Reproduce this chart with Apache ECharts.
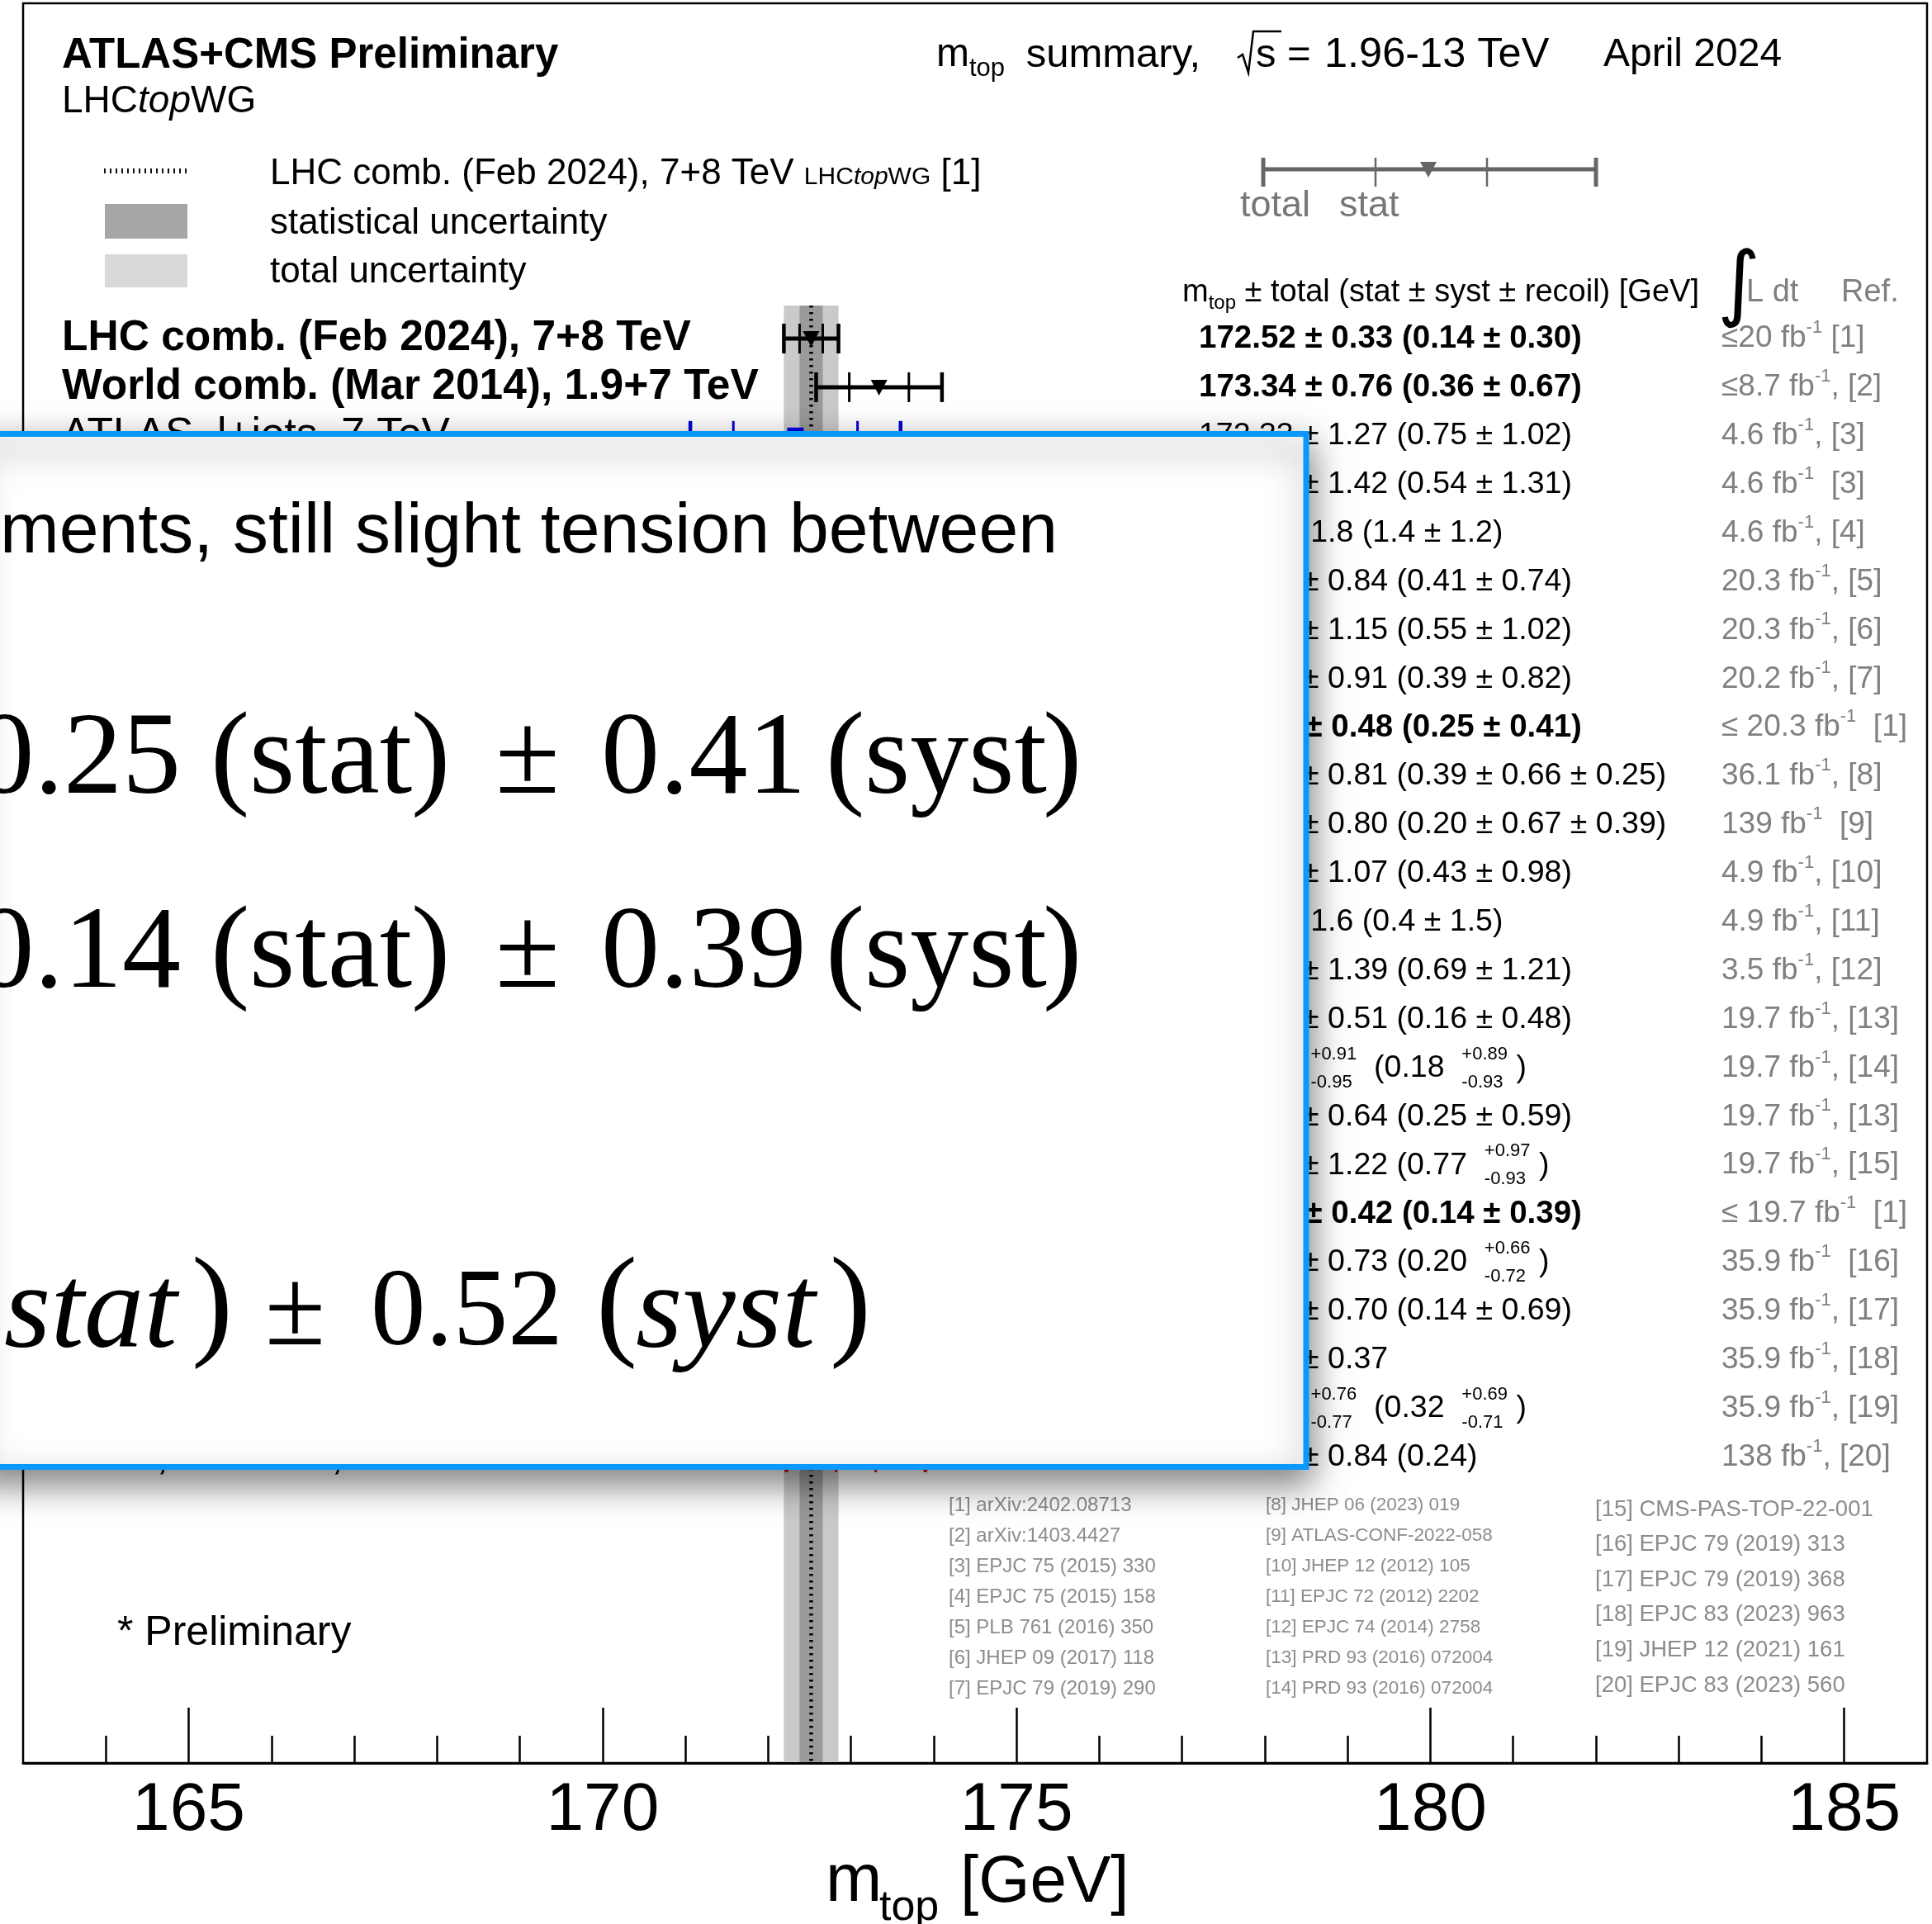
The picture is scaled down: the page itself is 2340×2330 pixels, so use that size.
<!DOCTYPE html>
<html>
<head>
<meta charset="utf-8">
<script src="https://cdn.jsdelivr.net/npm/echarts@6/dist/echarts.min.js"></script>
<style>
  html, body { margin: 0; padding: 0; background: #fff; }
  #chart { width: 2340px; height: 2330px; }
</style>
</head>
<body>
<div id="chart"></div>
<script>
// ---------- measurements, listed from top to bottom ----------
const labels = [
  'LHC comb. (Feb 2024), 7+8 TeV', 'World comb. (Mar 2014), 1.9+7 TeV',
  'ATLAS, l+jets, 7 TeV', 'ATLAS, dilepton, 7 TeV', 'ATLAS, all jets, 7 TeV',
  'ATLAS, dilepton, 8 TeV', 'ATLAS, all jets, 8 TeV', 'ATLAS, l+jets, 8 TeV',
  'ATLAS comb., 7+8 TeV', 'ATLAS, leptonic invariant mass*, 13 TeV', 'ATLAS, dilepton*, 13 TeV',
  'CMS, l+jets, 7 TeV', 'CMS, dilepton, 7 TeV', 'CMS, all jets, 7 TeV',
  'CMS, l+jets, 8 TeV', 'CMS, dilepton, 8 TeV', 'CMS, all jets, 8 TeV', 'CMS, single top, 8 TeV',
  'CMS comb., 7+8 TeV', 'CMS, all jets, 13 TeV', 'CMS, dilepton, 13 TeV',
  'CMS, l+jets*, 13 TeV', 'CMS, single top, 13 TeV', 'CMS, boosted, 13 TeV'
];
const boldRows = [0, 1, 8, 18];
const experiment = ['comb', 'comb',
  'atlas', 'atlas', 'atlas', 'atlas', 'atlas', 'atlas', 'atlas', 'atlas', 'atlas',
  'cms', 'cms', 'cms', 'cms', 'cms', 'cms', 'cms', 'cms', 'cms', 'cms', 'cms', 'cms', 'cms'];
const mtop     = [172.52, 173.34, 172.33, 173.79, 175.1, 172.99, 173.72, 172.08, 172.71, 174.41, 172.21,
                  173.49, 172.5, 173.49, 172.35, 172.22, 172.32, 172.95, 172.52, 172.34, 172.33, 171.77, 172.13, 173.06];
const decimals = [2, 2, 2, 2, 1, 2, 2, 2, 2, 2, 2, 2, 1, 2, 2, 2, 2, 2, 2, 2, 2, 2, 2, 2];
const totUp    = [0.33, 0.76, 1.27, 1.42, 1.8, 0.84, 1.15, 0.91, 0.48, 0.81, 0.80,
                  1.07, 1.6, 1.39, 0.51, 0.91, 0.64, 1.22, 0.42, 0.73, 0.70, 0.37, 0.76, 0.84];
const totDn    = [0.33, 0.76, 1.27, 1.42, 1.8, 0.84, 1.15, 0.91, 0.48, 0.81, 0.80,
                  1.07, 1.6, 1.39, 0.51, 0.95, 0.64, 1.22, 0.42, 0.73, 0.70, 0.37, 0.77, 0.84];
const statErr  = [0.14, 0.36, 0.75, 0.54, 1.4, 0.41, 0.55, 0.39, 0.25, 0.39, 0.20,
                  0.43, 0.4, 0.69, 0.16, 0.18, 0.25, 0.77, 0.14, 0.20, 0.14, null, 0.32, 0.24];
const systUp   = [0.30, 0.67, 1.02, 1.31, 1.2, 0.74, 1.02, 0.82, 0.41, 0.66, 0.67,
                  0.98, 1.5, 1.21, 0.48, 0.89, 0.59, 0.97, 0.39, 0.66, 0.69, null, 0.69, null];
const systDn   = [0.30, 0.67, 1.02, 1.31, 1.2, 0.74, 1.02, 0.82, 0.41, 0.66, 0.67,
                  0.98, 1.5, 1.21, 0.48, 0.93, 0.59, 0.93, 0.39, 0.72, 0.69, null, 0.71, null];
const recoil   = [null, null, null, null, null, null, null, null, null, 0.25, 0.39,
                  null, null, null, null, null, null, null, null, null, null, null, null, null];
const lumi     = ['\u226420', '\u22648.7', '4.6', '4.6', '4.6', '20.3', '20.3', '20.2', '\u2264 20.3', '36.1', '139',
                  '4.9', '4.9', '3.5', '19.7', '19.7', '19.7', '19.7', '\u2264 19.7', '35.9', '35.9', '35.9', '35.9', '138'];
const refSep   = [' ', ', ', ', ', '  ', ', ', ', ', ', ', ', ', '  ', ', ', '  ',
                  ', ', ', ', ', ', ', ', ', ', ', ', ', ', '  ', '  ', ', ', ', ', ', ', ', '];
const refNum   = [1, 2, 3, 3, 4, 5, 6, 7, 1, 8, 9, 10, 11, 12, 13, 14, 13, 15, 1, 16, 17, 18, 19, 20];
const refList  = ['arXiv:2402.08713', 'arXiv:1403.4427', 'EPJC 75 (2015) 330', 'EPJC 75 (2015) 158',
                  'PLB 761 (2016) 350', 'JHEP 09 (2017) 118', 'EPJC 79 (2019) 290',
                  'JHEP 06 (2023) 019', 'ATLAS-CONF-2022-058', 'JHEP 12 (2012) 105', 'EPJC 72 (2012) 2202',
                  'EPJC 74 (2014) 2758', 'PRD 93 (2016) 072004', 'PRD 93 (2016) 072004',
                  'CMS-PAS-TOP-22-001', 'EPJC 79 (2019) 313', 'EPJC 79 (2019) 368', 'EPJC 83 (2023) 963',
                  'JHEP 12 (2021) 161', 'EPJC 83 (2023) 560'];
// x axis
const majorTicks = [165, 170, 175, 180, 185];
const minorTicks = [164, 166, 167, 168, 169, 171, 172, 173, 174, 176, 177, 178, 179, 181, 182, 183, 184];
const tickLabels = ['165', '170', '175', '180', '185'];

// ---------- layout ----------
const X_MIN = 163, X_MAX = 186;
const ROW_MIN = -6.893, ROW_MAX = 29.287;
const BAND_TOP_ROW = -0.68;
const LABEL_X = 75, VALUE_X = 1452, LUMI_X = 2085;
const SANS = '"Liberation Sans", Arial, Helvetica, sans-serif';
const SERIF = '"Liberation Serif", "Times New Roman", serif';
const COLORS = { comb: '#000000', atlas: '#0000dd', cms: '#dd0000' };
const GREY = '#808080';

// ---------- text helpers ----------
const mctx = document.createElement('canvas').getContext('2d');
function tw(t, f) {
  mctx.font = `${f.style || 'normal'} ${f.weight || 'normal'} ${f.size}px ${f.family || SANS}`;
  return mctx.measureText(t).width;
}
function txt(t, x, y, f, z) {
  const el = {
    type: 'text', silent: true,
    style: {
      text: t, x: x, y: y,
      fontSize: f.size, fontFamily: f.family || SANS,
      fontWeight: f.weight || 'normal', fontStyle: f.style || 'normal',
      fill: f.fill || '#000',
      align: f.align || 'left', textAlign: f.align || 'left',
      verticalAlign: 'middle', textVerticalAlign: 'middle'
    }
  };
  if (z != null) el.z = z;
  return el;
}
// lays out a sequence of text pieces left to right; pieces may be stacked (+up / -down)
function runs(x, y, parts, base, z) {
  const els = [];
  let cx = x;
  parts.forEach(p => {
    const f = Object.assign({}, base, p);
    if (f.stack) {
      const sf = Object.assign({}, f, { size: f.stackSize || 22 });
      const dy = f.stackDy || 17;
      els.push(txt(f.stack[0], cx, y - dy, sf, z), txt(f.stack[1], cx, y + dy, sf, z));
      cx += Math.max(tw(f.stack[0], sf), tw(f.stack[1], sf));
    } else {
      els.push(txt(f.t, cx + (f.dx || 0), y + (f.dy || 0), f, z));
      cx += tw(f.t, f) + (f.dx || 0);
    }
  });
  return els;
}
function valueParts(i) {
  const d = decimals[i], fx = n => n.toFixed(d);
  const P = [{ t: fx(mtop[i]) }];
  if (totUp[i] === totDn[i]) P.push({ t: ' \u00b1 ' + fx(totUp[i]) });
  else P.push({ t: '  ' }, { stack: ['+' + fx(totUp[i]), '-' + fx(totDn[i])] }, { t: ' ' });
  if (statErr[i] != null) {
    P.push({ t: ' (' + fx(statErr[i]) });
    if (systUp[i] != null) {
      if (systUp[i] === systDn[i]) P.push({ t: ' \u00b1 ' + fx(systUp[i]) });
      else P.push({ t: '  ' }, { stack: ['+' + fx(systUp[i]), '-' + fx(systDn[i])] }, { t: ' ' });
    }
    if (recoil[i] != null) P.push({ t: ' \u00b1 ' + fx(recoil[i]) });
    P.push({ t: ')' });
  }
  return P;
}
function lumiParts(i) {
  return [{ t: lumi[i] + ' fb' }, { t: '-1', size: 22, dy: -13 }, { t: refSep[i] + '[' + refNum[i] + ']' }];
}

// ---------- fixed decorations (header, legend, references) ----------
const graphics = [];
graphics.push(txt('ATLAS+CMS Preliminary', 75, 68, { size: 51, weight: 'bold' }, 10));
graphics.push(...runs(75, 123, [{ t: 'LHC' }, { t: 'top', style: 'italic' }, { t: 'WG' }], { size: 46 }, 10));
graphics.push(...runs(1134, 67, [{ t: 'm' }, { t: 'top', size: 31, dy: 16 }, { t: ' summary,', dx: 12, size: 49 }], { size: 48 }, 10));
graphics.push({ type: 'polyline', z: 10, silent: true,
  shape: { points: [[1499, 70], [1505, 66], [1512, 88], [1518, 38], [1552, 38]] },
  style: { stroke: '#000', lineWidth: 2.5, fill: null } });
graphics.push(txt('s', 1521, 67, { size: 49 }, 10));
graphics.push(txt('=', 1559, 67, { size: 49 }, 10));
graphics.push(txt('1.96-13 TeV', 1604, 67, { size: 50.5 }, 10));
graphics.push(txt('April 2024', 1942, 67, { size: 48 }, 10));

// legend
graphics.push({ type: 'line', z: 10, silent: true, shape: { x1: 126, y1: 207, x2: 228, y2: 207 },
  style: { stroke: '#111', lineWidth: 6, lineDash: [2, 5] } });
graphics.push({ type: 'rect', z: 10, silent: true, shape: { x: 127, y: 247, width: 100, height: 42 }, style: { fill: '#a6a6a6' } });
graphics.push({ type: 'rect', z: 10, silent: true, shape: { x: 127, y: 308, width: 100, height: 40 }, style: { fill: '#d9d9d9' } });
graphics.push(...runs(327, 211, [
  { t: 'LHC comb. (Feb 2024), 7+8 TeV ' },
  { t: 'LHC', size: 30, dy: 4 }, { t: 'top', size: 30, dy: 4, style: 'italic' }, { t: 'WG', size: 30, dy: 4 },
  { t: ' [1]' }], { size: 44 }, 10));
graphics.push(txt('statistical uncertainty', 327, 271, { size: 44 }, 10));
graphics.push(txt('total uncertainty', 327, 330, { size: 44 }, 10));

// total / stat key
const KEY = '#666666';
graphics.push({ type: 'line', z: 10, silent: true, shape: { x1: 1530, y1: 205, x2: 1933, y2: 205 }, style: { stroke: KEY, lineWidth: 5 } });
[[1530, 5], [1933, 5], [1666, 2.5], [1801, 2.5]].forEach(([x, w]) => graphics.push({ type: 'line', z: 10, silent: true,
  shape: { x1: x, y1: 191, x2: x, y2: 226 }, style: { stroke: KEY, lineWidth: w } }));
graphics.push({ type: 'polygon', z: 10, silent: true, shape: { points: [[1720, 196], [1740, 196], [1730, 215]] }, style: { fill: KEY } });
graphics.push(txt('total', 1502, 250, { size: 45, fill: '#777' }, 10));
graphics.push(txt('stat', 1622, 250, { size: 45, fill: '#777' }, 10));

// column header
graphics.push(...runs(1432, 355, [{ t: 'm' }, { t: 'top', size: 24, dy: 12 },
  { t: ' \u00b1 total (stat \u00b1 syst \u00b1 recoil) [GeV]' }], { size: 38 }, 10));
graphics.push(txt('\u222b', 2080, 350, { size: 100, family: '"DejaVu Sans", sans-serif' }, 10));
graphics.push(txt('L dt', 2115, 355, { size: 38, fill: GREY }, 10));
graphics.push(txt('Ref.', 2230, 355, { size: 38, fill: GREY }, 10));

graphics.push(txt('* Preliminary', 142, 1978, { size: 50 }, 10));

// reference list in three columns
refList.forEach((r, k) => {
  const col = k < 7 ? 0 : (k < 14 ? 1 : 2);
  const row = col === 2 ? k - 14 : k % 7;
  const x = [1149, 1533, 1932][col];
  const size = [24, 22.5, 27.5][col];
  const y = col === 2 ? 1828 + row * 42.6 : 1823 + row * 37;
  graphics.push(txt('[' + (k + 1) + '] ' + r, x, y, { size: size, fill: '#8c8c8c' }, 10));
});

// axis title
graphics.push(txt('m', 1000, 2279, { size: 82 }, 10));
graphics.push(txt('top', 1065, 2311, { size: 52 }, 10));
graphics.push(txt('[GeV]', 1163, 2281, { size: 80 }, 10));

// ---------- slide panel laid over the left part ----------
const OZ = 100;
graphics.push({ type: 'rect', z: OZ, silent: true,
  shape: { x: -30, y: 525.5, width: 1612, height: 1251 },
  style: { fill: '#ffffff', stroke: '#0a98fa', lineWidth: 7,
    shadowBlur: 40, shadowOffsetX: 2, shadowOffsetY: 16, shadowColor: 'rgba(0,0,0,0.5)' } });
graphics.push(txt('ments, still slight tension between', 0, 645, { size: 86 }, OZ + 1));
function serifLine(y, first, second) {
  const f = { size: 142, family: SERIF };
  return [
    txt(first, 219, y, Object.assign({}, f, { align: 'right' }), OZ + 1),
    txt('(', 255, y, f, OZ + 1), txt('stat', 302, y, f, OZ + 1), txt(')', 498, y, f, OZ + 1),
    txt('\u00b1', 600, y, f, OZ + 1), txt(second, 728, y, f, OZ + 1),
    txt('(', 1000, y, f, OZ + 1), txt('syst', 1047, y, f, OZ + 1), txt(')', 1263, y, f, OZ + 1)
  ];
}
graphics.push(...serifLine(923, '0.25', '0.41'));
graphics.push(...serifLine(1158, '0.14', '0.39'));
{
  const up = { size: 133, family: SERIF };
  const it = { size: 145, family: SERIF, style: 'italic' };
  const pr = { size: 150, family: SERIF };
  graphics.push(
    txt('stat', 5, 1593, it, OZ + 1), txt(')', 232, 1587, pr, OZ + 1),
    txt('\u00b1', 321, 1593, up, OZ + 1), txt('0.52', 449, 1593, up, OZ + 1),
    txt('(', 722, 1587, pr, OZ + 1), txt('syst', 770, 1593, it, OZ + 1), txt(')', 1005, 1587, pr, OZ + 1)
  );
}

// ---------- chart ----------
const chart = echarts.init(document.getElementById('chart'), null, { renderer: 'canvas' });
const rowData = mtop.map((m, i) => [m, i]);

function seg(x1, y1, x2, y2, w, c) {
  return { type: 'line', shape: { x1, y1, x2, y2 }, style: { stroke: c, lineWidth: w } };
}

chart.setOption({
  animation: false,
  backgroundColor: '#ffffff',
  grid: { left: 28, top: 4, right: 6, bottom: 195, show: true, borderColor: '#000', borderWidth: 2.5, backgroundColor: 'transparent' },
  xAxis: [
    {
      type: 'value', min: X_MIN, max: X_MAX, position: 'bottom', z: 5,
      axisLine: { show: true, onZero: false, lineStyle: { color: '#000', width: 3 } },
      axisTick: { show: true, inside: true, length: 67, customValues: majorTicks, lineStyle: { color: '#000', width: 2.5 } },
      axisLabel: {
        show: true, customValues: majorTicks, margin: 17,
        fontSize: 82, fontFamily: SANS, color: '#000',
        formatter: v => tickLabels[majorTicks.indexOf(v)]
      },
      splitLine: { show: false }
    },
    {
      type: 'value', min: X_MIN, max: X_MAX, position: 'bottom', offset: 0, z: 5,
      axisLine: { show: false, onZero: false },
      axisTick: { show: true, inside: true, length: 33, customValues: minorTicks, lineStyle: { color: '#000', width: 2.5 } },
      axisLabel: { show: false },
      splitLine: { show: false }
    }
  ],
  yAxis: { type: 'value', inverse: true, min: ROW_MIN, max: ROW_MAX, show: false, splitLine: { show: false } },
  graphic: { elements: graphics },
  series: [
    { // combined-result band with the dotted central line
      type: 'custom', z: 1, silent: true,
      data: [[mtop[0], 0]], encode: { x: 0, y: 1 },
      renderItem(params, api) {
        const cs = params.coordSys;
        const yTop = api.coord([mtop[0], BAND_TOP_ROW])[1];
        const yBot = cs.y + cs.height;
        const X = v => api.coord([v, 0])[0];
        const m = mtop[0];
        return { type: 'group', children: [
          { type: 'rect', shape: { x: X(m - totDn[0]), y: yTop, width: X(m + totUp[0]) - X(m - totDn[0]), height: yBot - yTop }, style: { fill: '#cacaca' } },
          { type: 'rect', shape: { x: X(m - statErr[0]), y: yTop, width: X(m + statErr[0]) - X(m - statErr[0]), height: yBot - yTop }, style: { fill: '#9a9a9a' } },
          { type: 'line', shape: { x1: X(m), y1: yTop, x2: X(m), y2: yBot }, style: { stroke: '#000', lineWidth: 4.5, lineDash: [2.5, 5.5] } }
        ] };
      }
    },
    { // error bars and markers
      type: 'custom', z: 3, silent: true,
      data: rowData, encode: { x: 0, y: 1 },
      renderItem(params, api) {
        const i = params.dataIndex;
        const c = api.coord([mtop[i], i]);
        const y = c[1], H = 18;
        const col = COLORS[experiment[i]];
        const xl = api.coord([mtop[i] - totDn[i], i])[0];
        const xr = api.coord([mtop[i] + totUp[i], i])[0];
        const ch = [seg(xl, y, xr, y, 5, col), seg(xl, y - H, xl, y + H, 4.5, col), seg(xr, y - H, xr, y + H, 4.5, col)];
        if (statErr[i] != null) {
          const sl = api.coord([mtop[i] - statErr[i], i])[0];
          const sr = api.coord([mtop[i] + statErr[i], i])[0];
          ch.push(seg(sl, y - H, sl, y + H, 3, col), seg(sr, y - H, sr, y + H, 3, col));
        }
        const g = experiment[i];
        if (g === 'comb') ch.push({ type: 'polygon', shape: { points: [[c[0] - 10, y - 9], [c[0] + 10, y - 9], [c[0], y + 10]] }, style: { fill: col } });
        else if (g === 'atlas') ch.push({ type: 'rect', shape: { x: c[0] - 10, y: y - 10, width: 20, height: 20 }, style: { fill: col } });
        else ch.push({ type: 'circle', shape: { cx: c[0], cy: y, r: 10 }, style: { fill: col } });
        return { type: 'group', children: ch };
      }
    },
    { // row labels, values and luminosities
      type: 'custom', z: 3, silent: true,
      data: rowData, encode: { x: 0, y: 1 },
      renderItem(params, api) {
        const i = params.dataIndex;
        const y = api.coord([mtop[i], i])[1];
        const isBold = boldRows.indexOf(i) >= 0;
        const els = [txt(labels[i], LABEL_X, y, { size: 51.5, weight: isBold ? 'bold' : 'normal' })];
        els.push(...runs(VALUE_X, y, valueParts(i), { size: isBold ? 38.5 : 37.5, weight: isBold ? 'bold' : 'normal' }));
        els.push(...runs(LUMI_X, y, lumiParts(i), { size: 37, fill: GREY }));
        return { type: 'group', children: els };
      }
    }
  ]
});
</script>
</body>
</html>
